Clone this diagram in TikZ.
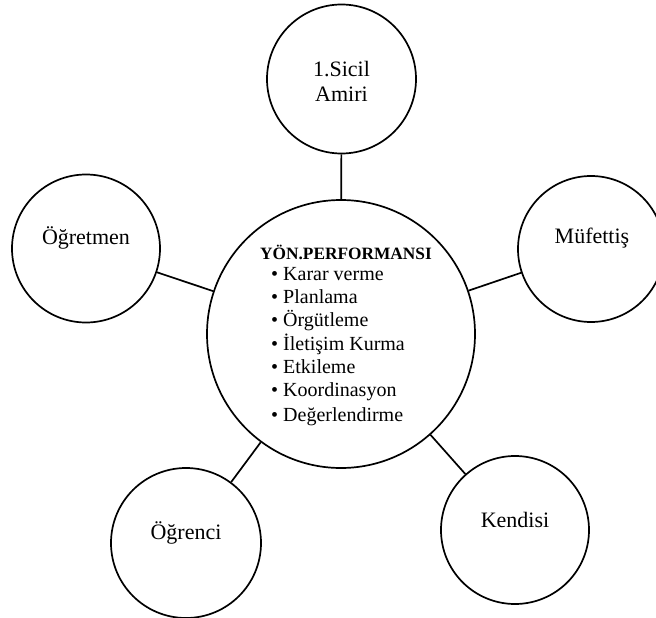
\documentclass[tikz,border=0pt]{standalone}
\usepackage{fontspec}
\setmainfont{Liberation Serif}
\begin{document}
\begin{tikzpicture}[x=1pt,y=-1pt,
  bubble/.style={draw=black,line width=1.7pt,circle,inner sep=0pt,minimum size=#1},
  lbl/.style={font=\fontsize{22}{26}\selectfont,align=center,inner sep=0pt},
  ttl/.style={font=\fontsize{17.3}{20}\selectfont\bfseries,inner sep=0pt,anchor=base},
  itm/.style={font=\fontsize{20}{23}\selectfont,inner sep=0pt,anchor=base west},
  link/.style={line width=1.7pt}]
\useasboundingbox (0,0) rectangle (656,618);
\clip (0,0) rectangle (656,618);
% circles
\node[bubble=268pt] (c) at (341,334) {};
\node[bubble=149pt] (sa) at (341.5,79) {};
\node[bubble=148pt] (og) at (86,248.5) {};
\node[bubble=146pt] (mu) at (591,249) {};
\node[bubble=150pt] (oc) at (186,543) {};
\node[bubble=148pt] (ke) at (515,530) {};
% labels
\node[lbl] (tsa) at (341.5,81) {1.Sicil\\[-1pt]Amiri};
\node[lbl] (tog) at (86,238) {Öğretmen};
\node[lbl] (tmu) at (592,238) {Müfettiş};
\node[lbl] (toc) at (186,533) {Öğrenci};
\node[lbl] (tke) at (515,520) {Kendisi};
% central text
\node[ttl] (t0) at (346,259) {YÖN.PERFORMANSI};
\node[itm] (t1) at (271,280.7) {\textbullet\ Karar verme};
\node[itm] (t2) at (271,303.5) {\textbullet\ Planlama};
\node[itm] (t3) at (271,326.7) {\textbullet\ Örgütleme};
\node[itm] (t4) at (271,350.2) {\textbullet\ İletişim Kurma};
\node[itm] (t5) at (271,373) {\textbullet\ Etkileme};
\node[itm] (t6) at (271,396) {\textbullet\ Koordinasyon};
\node[itm] (t7) at (271,421.2) {\textbullet\ Değerlendirme};
% connectors
\draw[link] (c) -- (sa);
\draw[link] (c) -- (og);
\draw[link] (c) -- (mu);
\draw[link] (c) -- (oc);
\draw[link] (c) -- (ke);
\end{tikzpicture}
\end{document}
